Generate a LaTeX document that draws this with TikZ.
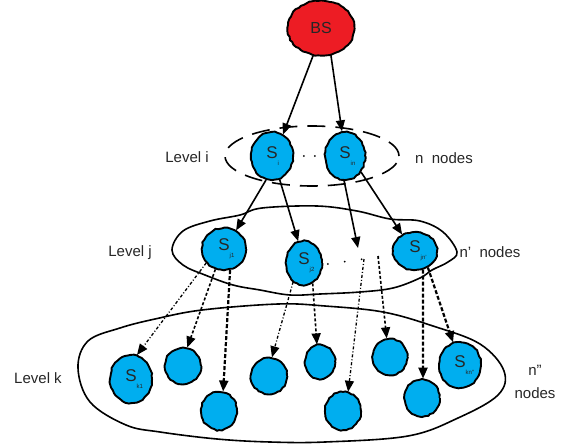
\documentclass[tikz,border=0pt]{standalone}
\usepackage{fontspec}
\setmainfont{Liberation Sans}
\usetikzlibrary{arrows.meta,shapes.geometric,decorations.pathmorphing}
\definecolor{nodeblue}{HTML}{00AEEF}
\definecolor{bsred}{HTML}{ED1C24}
\newcommand\slabel[1]{S\makebox[0pt][l]{\raisebox{-7pt}{\fontsize{6}{6}\selectfont #1}}}
\tikzset{
  wob/.style={decorate, decoration={random steps,segment length=3pt,amplitude=0.6pt}},
  sensor/.style={ellipse, draw=black, fill=nodeblue, line width=1.9pt, inner sep=0pt, wob,
    text=black!85, font=\fontsize{17}{17}\selectfont},
  bsnode/.style={ellipse, draw=black, fill=bsred, line width=1.9pt, inner sep=0pt, wob,
    text=black!85, font=\fontsize{16}{16}\selectfont, minimum width=67pt, minimum height=55pt},
  outline/.style={draw=black, line width=1.6pt},
  lbl/.style={font=\fontsize{15}{23}\selectfont, inner sep=0pt, text=black!85},
  arr/.style={-{Triangle[length=11pt,width=9pt]}, line width=1.6pt},
  darrA/.style={arr, line width=1.3pt, dash pattern=on 3pt off 2pt on 1pt off 2pt},
  darrB/.style={arr, line width=1.6pt, dash pattern=on 3pt off 2pt},
  darrC/.style={arr, line width=2.2pt, dash pattern=on 4pt off 2pt},
  dotline/.style={line width=2pt, line cap=round},
}
\begin{document}
\begin{tikzpicture}[x=1pt,y=-1pt]
\pgfmathsetseed{7}
\useasboundingbox (0,0) rectangle (565,447);
% level outlines
\node[ellipse, draw=black, line width=1.6pt, dash pattern=on 18pt off 10pt,
  minimum width=174pt, minimum height=60pt, inner sep=0pt] (levi) at (312,156) {};
\draw[outline] plot[smooth cycle, tension=0.6] coordinates {
  (172,250) (183,231) (210,221) (240,215) (262,208) (317,206) (357,211) (390,219)
  (420,221) (443,232) (457,252) (448,262) (432,270) (420,278) (393,288) (360,292)
  (320,294) (290,295) (260,290) (233,285) (205,275) (183,265)};
\draw[outline] plot[smooth cycle, tension=0.6] coordinates {
  (78,368) (88,341) (120,328) (155,319) (202,310) (278,304) (325,306) (383,312)
  (433,326) (480,344) (504,371) (498,395) (458,418) (408,436) (325,442) (270,442)
  (217,439) (160,432) (126,425) (90,402)};
% nodes
\node[bsnode] (BS) at (321,28) {BS};
\node[sensor, minimum width=42pt, minimum height=48pt] (Si) at (272,156) {\slabel{i}};
\node[sensor, minimum width=40pt, minimum height=48pt] (Sin) at (345,156) {\slabel{in}};
\node[sensor, minimum width=44pt, minimum height=42pt] (Sj1) at (224,249) {\slabel{j1}};
\node[sensor, minimum width=36pt, minimum height=44pt] (Sj2) at (304,263) {\slabel{j2}};
\node[sensor, minimum width=44pt, minimum height=38pt] (Sjn) at (415,251) {\slabel{jn'}};
\node[sensor, minimum width=42pt, minimum height=48pt] (Sk1) at (131,379) {\slabel{k1}};
\node[sensor, minimum width=36pt, minimum height=36pt] (k2) at (183,366) {};
\node[sensor, minimum width=36pt, minimum height=38pt] (k3) at (219,411) {};
\node[sensor, minimum width=36pt, minimum height=36pt] (k4) at (269,376) {};
\node[sensor, minimum width=30pt, minimum height=34pt] (k5) at (320,362) {};
\node[sensor, minimum width=36pt, minimum height=38pt] (k6) at (343,411) {};
\node[sensor, minimum width=35pt, minimum height=36pt] (k7) at (390,357) {};
\node[sensor, minimum width=35pt, minimum height=37pt] (k8) at (422,398) {};
\node[sensor, minimum width=42pt, minimum height=46pt] (Skn) at (460,365) {\slabel{kn''}};
% labels
\node[lbl] (tLi) at (187,157) {Level i};
\node[lbl] (tni) at (444,158) {n\ \ nodes};
\node[lbl] (tLj) at (130,253) {Level j};
\node[lbl] (tnj) at (490,252) {n'\ \ nodes};
\node[lbl] (tLk) at (38,378) {Level k};
\node[lbl, align=center] (tnk) at (535,382) {n"\\nodes};
% dotted links
\draw[dotline, dash pattern=on 0pt off 11pt, dash phase=1pt] (Si.east) -- (Sin.west);
\draw[dotline, dash pattern=on 0pt off 17pt, dash phase=12pt] (Sj2.-5) -- (Sjn.190);
% arrows
\draw[arr] (BS.-106) -- (Si.63);
\draw[arr] (BS.-70) -- (Sin.97);
\draw[arr] (Si.-104) -- (Sj1.57);
\draw[arr] (Si.-72) -- (Sj2.105);
\coordinate (f1) at (358,248);
\draw[arr] (Sin.-92) -- (f1);
\draw[arr] (Sin.-45) -- (Sjn.128);
\coordinate (d1) at (364,259);
\coordinate (d2) at (378,256);
\draw[darrA] (Sj1.-142) -- (Sk1.76);
\draw[darrB] (Sj1.-113) -- (k2.77);
\draw[darrC] (Sj1.-74) -- (k3.78);
\draw[darrA] (Sj2.-120) -- (k4.81);
\draw[darrB] (Sj2.-67) -- (k5.100);
\draw[darrA] (d1) -- (k6.75);
\draw[darrB] (d2) -- (k7.100);
\draw[darrC] (Sjn.-67) -- (k8.87);
\draw[darrC] (Sjn.-52) -- (Skn.107);
\end{tikzpicture}
\end{document}
